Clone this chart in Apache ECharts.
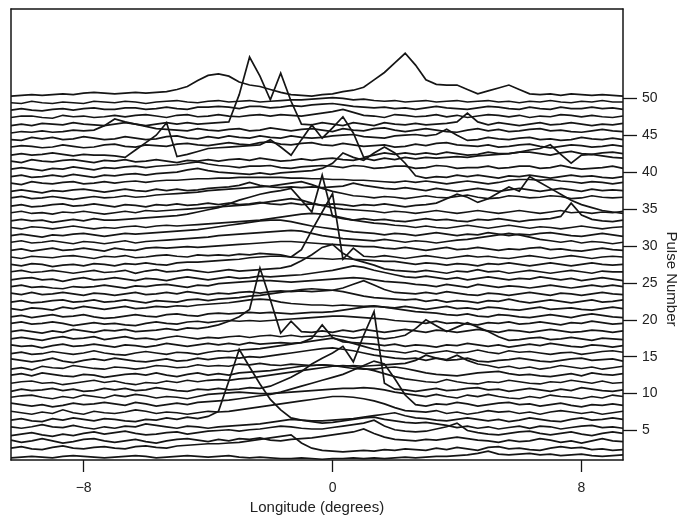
<!DOCTYPE html>
<html>
<head>
<meta charset="utf-8">
<script src="https://cdn.jsdelivr.net/npm/echarts@6/dist/echarts.min.js"></script>
<style>
html, body { margin: 0; padding: 0; background: #ffffff; }
#chart { width: 677px; height: 516px; }
</style>
</head>
<body>
<div id="chart"></div>
<script>
// Longitude samples, in thirds of a degree (-31/3 ... 28/3 degrees)
const longitudeThirds = [-31,-30,-29,-28,-27,-26,-25,-24,-23,-22,-21,-20,-19,-18,-17,-16,-15,-14,-13,-12,
  -11,-10,-9,-8,-7,-6,-5,-4,-3,-2,-1,0,1,2,3,4,5,6,7,8,9,10,11,12,13,14,15,16,17,18,19,20,21,22,23,24,25,26,27,28];

const pulseNumbers = [1,2,3,4,5,6,7,8,9,10,11,12,13,14,15,16,17,18,19,20,21,22,23,24,25,
  26,27,28,29,30,31,32,33,34,35,36,37,38,39,40,41,42,43,44,45,46,47,48,49,50];

// Pulse intensity at each longitude, in tenths of the spacing between pulses
const pulse01 = [3,4,5,4,3,5,6,5,4,3, 4,5,6,5,3,4,5,6,5,4, 5,6,4,3,4,3,2,2,3,2, 1,2,2,3,2,3,2,3,4,3, 4,5,5,6,7,9,12,8,7,8, 9,7,8,6,7,8,6,5,6,7];
const pulse02 = [6,8,5,4,7,9,6,5,7,8, 6,5,8,9,7,6,9,10,11,12, 12,13,14,16,18,20,22,24,13,6, 3,2,1,2,3,2,4,3,5,4, 3,6,4,7,5,3,7,8,5,6, 4,3,6,8,6,7,4,5,3,4];
const pulse03 = [7,4,6,9,6,3,5,8,9,6, 4,6,8,5,3,6,8,9,7,5, 8,6,9,8,10,7,6,8,9,10, 12,14,16,18,22,16,11,8,7,6, 8,7,9,11,9,7,6,4,7,5, 6,9,7,4,6,3,6,9,6,5];
const pulse04 = [3,5,7,4,2,5,3,6,8,5, 7,9,6,4,5,7,8,5,7,9, 10,11,9,11,12,14,16,15,13,12, 12,14,16,18,20,24,16,11,9,8, 9,12,15,20,10,7,5,4,6,8, 9,6,4,6,8,5,3,6,8,6];
const pulse05 = [5,3,5,8,5,4,7,4,2,5, 3,6,5,9,7,5,3,6,5,3, 5,6,7,8,9,11,13,15,14,12, 10,11,13,15,17,18,15,13,11,10, 11,9,7,4,6,3,5,2,4,6, 3,6,5,2,4,6,7,4,5,3];
const pulse06 = [4,6,3,2,6,4,7,5,3,6, 5,3,2,5,4,7,5,8,6,9, 16,57,100,76,53,32,18,7,4,3, 3,4,5,6,8,10,12,14,10,7, 6,4,3,5,7,5,3,5,2,4, 7,5,3,2,5,7,4,5,7,5];
const pulse07 = [6,4,2,5,3,8,4,2,6,4, 3,5,8,6,3,5,4,2,4,6, 5,6,8,10,12,14,16,18,20,22, 24,26,26,25,23,20,16,11,7,6, 5,7,3,5,2,4,7,5,6,3, 5,2,5,7,5,3,5,2,4,6];
const pulse08 = [7,5,3,5,2,4,7,5,6,8, 6,4,8,6,3,5,7,5,8,9, 10,11,13,15,17,19,22,26,30,34, 38,42,46,52,58,64,60,40,18,5, 3,6,5,8,6,3,5,7,8,5, 6,3,5,7,4,2,5,4,6,4];
const pulse09 = [5,7,8,5,3,6,4,8,6,4, 8,6,9,7,4,6,5,3,6,9, 10,11,12,11,10,10,11,12,13,14, 15,16,17,17,18,17,15,12,10,8, 6,9,6,4,8,6,9,6,4,3, 6,4,8,6,5,3,6,4,8,6];
const pulse10 = [3,6,4,5,7,4,6,3,4,7, 5,7,4,5,8,6,4,3,6,5, 7,5,6,8,7,10,16,22,30,40, 48,55,64,43,79,111,14,6,5,3, 5,7,4,5,7,8,5,6,3,5, 7,5,3,6,4,8,6,4,3,5];
const pulse11 = [4,6,7,4,5,2,4,6,8,5, 7,4,2,5,4,7,5,8,6,8, 9,8,10,11,13,15,17,19,21,23, 25,27,28,27,24,21,17,13,10,8, 6,5,9,6,4,3,6,5,8,6, 4,3,6,5,8,6,4,7,4,5];
const pulse12 = [5,7,4,8,6,4,3,6,5,2, 4,6,7,5,8,5,3,6,8,5, 7,5,8,9,10,11,13,15,17,18, 19,18,16,14,13,13,15,16,14,11, 8,6,5,4,6,8,9,10,7,5, 6,4,3,5,7,4,8,6,5,7];
const pulse13 = [3,5,2,7,5,4,8,6,4,3, 6,5,3,5,8,7,5,6,9,7, 8,7,10,9,11,9,8,10,9,8, 9,8,7,8,7,8,9,10,11,15, 22,18,16,22,15,10,8,5,7,4, 6,3,5,8,6,4,6,3,5,7];
const pulse14 = [7,5,3,5,8,4,2,5,7,5, 8,6,4,3,5,7,4,5,8,6, 8,9,8,10,9,11,13,15,17,19, 21,22,20,18,15,12,10,8,7,8, 5,8,5,6,8,4,3,5,6,8, 6,4,3,5,7,8,5,6,7,4];
const pulse15 = [4,6,3,4,7,5,3,5,8,5, 3,2,5,7,5,3,6,5,3,6, 8,7,9,10,11,13,15,17,19,21, 23,25,22,18,14,10,8,7,5,8, 4,6,8,5,6,9,6,4,8,6, 7,5,3,5,6,3,5,7,8,6];
const pulse16 = [6,4,5,2,5,7,4,5,7,5, 3,6,5,3,5,8,6,4,6,8, 6,8,6,9,7,8,9,8,9,15, 33,16,10,9,8,7,5,7,4,6, 5,3,6,5,8,6,4,6,3,5, 7,5,8,6,4,3,6,5,3,5];
const pulse17 = [4,6,4,2,5,7,4,5,7,3, 5,7,4,5,3,6,8,6,4,6, 5,7,8,6,8,9,7,9,7,8, 7,9,7,5,7,6,4,6,9,18, 30,22,14,20,26,20,14,7,2,3, 5,6,3,4,6,4,2,5,4,3];
const pulse18 = [4,6,4,2,5,3,7,5,3,6, 5,7,4,5,6,8,6,9,8,10, 13,18,24,34,90,47,2,18,4,3, 5,3,6,4,7,5,3,5,7,5, 3,6,5,3,5,7,5,3,6,5, 3,5,7,5,3,4,6,5,3,5];
const pulse19 = [5,7,4,5,7,5,2,4,6,4, 5,3,2,5,7,5,4,7,8,6, 8,9,8,9,8,9,10,11,12,13, 14,15,15,14,13,12,11,9,8,7, 5,8,5,6,4,3,6,5,7,4, 5,7,5,3,6,5,8,6,4,5];
const pulse20 = [4,6,3,5,7,4,5,7,4,2, 3,5,7,5,4,7,8,6,5,8, 9,8,9,10,9,10,9,8,9,10, 10,11,13,15,17,18,17,15,13,11, 10,9,7,6,8,5,4,7,6,4, 3,5,7,5,3,6,8,6,4,3];
const pulse21 = [5,3,6,5,3,7,5,8,6,4, 6,8,5,6,8,7,9,8,10,11, 12,13,15,17,18,17,14,12,11,10, 10,9,10,9,8,9,7,6,8,6, 4,6,8,5,6,4,7,6,4,3, 5,7,4,5,6,4,3,5,7,5];
const pulse22 = [4,6,3,4,6,7,4,5,7,4, 5,7,5,3,6,5,4,7,8,6, 8,9,10,12,13,15,17,19,21,22, 21,20,18,15,12,10,9,8,7,8, 5,7,4,6,5,3,6,5,8,5, 3,5,7,5,3,5,7,4,5,7];
const pulse23 = [6,4,7,4,5,7,5,3,6,5, 3,5,7,4,5,7,5,8,6,4, 6,5,7,8,6,8,9,8,9,8, 9,10,13,18,23,17,11,7,6,5, 7,5,8,6,4,3,6,5,3,5, 7,5,3,6,5,3,5,7,5,4];
const pulse24 = [5,7,4,5,3,2,5,4,5,7, 5,3,6,5,7,8,6,4,7,6, 9,10,11,12,13,13,12,11,12,13, 14,15,16,17,16,14,12,11,10,8, 7,5,8,6,4,8,6,4,6,5, 3,5,7,5,3,5,7,5,7,5];
const pulse25 = [4,6,7,4,5,2,5,7,4,5, 7,5,3,6,5,3,6,8,6,4, 6,8,6,7,9,8,9,10,11,13, 15,17,20,23,21,17,14,11,8,7, 9,7,5,7,4,6,8,6,4,6, 5,8,6,4,6,3,5,7,5,3];
const pulse26 = [5,7,4,5,7,5,3,5,7,4, 5,7,3,6,8,5,6,8,6,4, 6,8,6,7,8,9,10,13,20,28, 38,42,30,22,18,14,9,7,6,5, 7,5,3,6,5,8,5,6,3,5, 7,5,3,5,7,5,3,6,5,5];
const pulse27 = [5,3,6,5,2,4,5,3,6,5, 3,6,5,7,5,4,7,8,8,9, 10,11,12,14,15,16,16,15,14,13, 13,12,13,12,11,10,9,9,7,5, 7,6,4,6,5,3,6,5,7,5, 3,5,7,5,3,5,7,5,4,5];
const pulse28 = [5,3,6,5,4,6,7,5,3,6, 5,7,4,5,7,8,6,5,8,7, 8,7,9,8,10,9,8,5,15,41, 66,91,2,17,6,5,7,5,3,5, 7,5,3,5,7,5,6,4,3,5, 7,5,3,5,7,5,3,5,6,5];
const pulse29 = [4,6,3,5,7,4,5,7,5,3, 7,5,4,7,8,7,8,9,8,9, 10,11,12,13,14,15,16,16,15,14, 13,12,11,10,9,9,7,6,8,6, 4,6,8,5,6,8,6,4,6,5, 7,8,5,6,4,3,5,7,5,4];
const pulse30 = [5,7,4,5,7,5,3,6,5,3, 5,7,4,6,7,8,9,10,11,12, 14,15,16,17,18,19,20,21,20,17, 14,12,10,9,8,7,9,7,5,7, 6,4,6,8,9,11,13,15,17,15, 12,9,7,5,7,4,6,5,3,5];
const pulse31 = [4,6,4,2,5,4,6,7,5,3, 5,7,6,7,8,9,10,11,12,14, 16,18,20,22,24,25,25,23,20,17, 15,13,11,9,8,7,5,7,6,4, 6,8,6,4,6,5,8,6,4,6, 5,7,8,6,4,3,5,7,5,3];
const pulse32 = [5,3,6,5,3,5,7,5,3,5, 4,6,7,5,7,8,7,8,9,10, 11,12,13,14,15,17,19,21,23,24, 23,21,18,15,13,11,10,8,7,5, 7,5,4,6,8,6,4,6,8,6, 4,6,5,3,5,7,5,3,5,6];
const pulse33 = [4,6,4,5,2,4,6,4,7,5, 5,6,7,8,9,10,11,13,16,19, 22,27,32,36,40,43,45,48,32,16, 66,10,7,5,7,5,6,4,3,5, 7,5,6,4,3,6,5,7,5,3, 5,6,7,10,28,12,6,4,3,5];
const pulse34 = [5,7,4,5,3,6,5,7,5,3, 5,7,5,8,7,8,9,10,11,12, 13,14,15,16,18,20,22,24,22,18, 15,12,10,9,8,7,5,7,6,4, 6,8,6,4,6,8,6,4,6,8, 6,4,6,8,5,6,4,6,5,7];
const pulse35 = [4,6,3,4,6,7,4,5,7,5, 3,6,5,3,6,5,7,5,6,8, 6,8,6,7,9,7,6,8,6,7, 5,7,6,4,6,5,7,5,3,5, 6,8,14,20,16,9,14,22,30,24, 44,36,28,20,12,6,2,-2,-4,-6];
const pulse36 = [5,7,4,5,7,5,3,5,7,5, 6,8,6,7,9,10,11,12,13,15, 16,17,18,19,20,21,23,25,27,23, 18,14,11,8,7,5,7,6,4,6, 8,6,5,7,9,6,4,5,8,7, 5,6,8,7,4,5,8,6,5,6];
const pulse37 = [4,6,4,2,5,4,6,7,5,3, 5,7,5,4,7,5,7,5,6,8, 9,10,12,16,12,10,9,10,9,10, 9,10,11,15,12,10,8,7,9,7, 5,8,6,4,6,8,6,4,6,8, 6,4,6,8,6,4,7,5,6,5];
const pulse38 = [5,3,7,5,4,6,7,4,5,7, 5,7,8,6,8,9,9,10,11,11, 12,12,13,13,13,13,13,12,12,11, 11,10,10,9,9,8,7,6,8,6, 8,6,4,6,8,6,4,6,9,10, 10,9,10,8,7,5,7,6,4,6];
const pulse39 = [4,6,3,4,6,4,7,5,3,6, 5,7,8,6,8,9,10,13,15,12, 10,9,8,7,9,7,9,10,11,12, 15,22,36,30,26,36,44,36,22,5, 2,4,3,6,4,6,4,2,5,4, 6,4,2,4,6,4,5,3,2,4];
const pulse40 = [4,6,4,2,5,4,7,5,3,6, 5,7,8,6,8,9,10,12,14,11, 9,8,6,8,8,9,6,5,7,8, 9,8,6,9,8,5,6,8,8,5, 6,9,8,5,6,6,8,5,6,8, 8,5,6,9,6,4,5,6,8,5];
const pulse41 = [5,3,7,5,4,6,7,5,3,6, 5,7,4,5,7,5,3,6,5,7, 5,7,8,6,9,7,5,6,8,6, 8,9,7,6,9,6,9,7,10,8, 10,9,10,11,10,12,13,14,15,17, 20,22,27,14,2,13,14,12,10,9];
const pulse42 = [3,5,3,4,6,4,2,4,3,3, 2,0,10,20,30,47,1,4,8,12, 13,14,15,16,17,24,14,3,24,44, 26,40,55,33,0,3,6,4,6,4, 6,4,7,5,3,4,7,5,5,7, 7,5,3,6,8,5,4,6,7,5];
const pulse43 = [4,6,5,3,4,7,5,3,4,7, 8,5,4,7,6,5,8,9,7,6, 8,10,8,7,10,11,8,7,9,10, 7,6,9,7,5,6,7,4,5,8, 6,9,10,7,6,5,7,4,5,7, 8,5,3,5,7,6,4,5,7,5];
const pulse44 = [4,3,7,5,7,4,5,8,6,4, 5,8,6,4,5,8,9,6,5,8, 6,9,7,6,9,7,6,9,7,6, 7,9,10,11,8,7,6,9,10,11, 9,11,18,10,3,4,7,5,4,6, 7,4,5,3,4,7,5,4,6,4];
const pulse45 = [3,5,4,6,4,5,7,6,7,13, 22,18,15,12,9,8,7,6,9,7, 6,8,9,6,7,10,8,6,8,9, 7,5,9,7,6,9,10,7,5,7, 9,7,5,4,7,9,6,8,5,6, 8,9,6,7,5,4,6,8,6,5];
const pulse46 = [3,5,3,6,5,4,7,5,4,3, 5,7,5,3,5,7,5,7,5,6, 7,8,45,96,70,38,74,36,5,4, 7,5,3,7,5,3,7,5,4,6, 4,5,6,8,20,8,4,7,5,3, 5,7,4,5,7,5,3,5,4,6];
const pulse47 = [4,6,6,4,3,7,5,6,4,5, 7,5,7,8,6,4,7,8,5,6, 8,6,5,7,8,6,8,7,6,8, 10,12,15,11,7,6,4,8,7,5, 6,8,5,7,4,6,8,7,5,7, 4,6,5,8,7,5,7,5,4,6];
const pulse48 = [4,6,4,3,5,6,4,6,7,5, 5,7,7,5,6,8,6,5,8,8, 9,8,6,9,9,7,8,10,9,11, 12,13,11,9,8,7,8,6,7,5, 7,9,7,6,5,7,9,8,6,5, 8,6,5,8,6,6,8,6,7,5];
const pulse49 = [4,3,6,4,3,5,4,3,6,5, 4,6,5,3,5,6,7,5,4,6, 7,5,6,7,5,6,7,8,8,9, 10,11,10,8,9,7,6,7,5,6, 7,5,6,7,5,6,7,5,6,4, 6,5,7,5,4,6,5,7,5,5];
const pulse50 = [3,4,5,4,5,6,5,7,8,7, 6,7,8,7,8,9,12,16,24,31, 33,30,22,18,16,12,8,5,4,3, 5,6,9,11,15,25,35,48,61,45, 25,19,18,18,12,6,10,14,18,12, 6,5,6,4,6,5,4,5,4,3];

const profiles = [pulse01, pulse02, pulse03, pulse04, pulse05, pulse06, pulse07, pulse08, pulse09, pulse10,
  pulse11, pulse12, pulse13, pulse14, pulse15, pulse16, pulse17, pulse18, pulse19, pulse20,
  pulse21, pulse22, pulse23, pulse24, pulse25, pulse26, pulse27, pulse28, pulse29, pulse30,
  pulse31, pulse32, pulse33, pulse34, pulse35, pulse36, pulse37, pulse38, pulse39, pulse40,
  pulse41, pulse42, pulse43, pulse44, pulse45, pulse46, pulse47, pulse48, pulse49, pulse50];

const longitudeTicks = [-8, 0, 8];
const pulseTicks = [5, 10, 15, 20, 25, 30, 35, 40, 45, 50];

const xMin = -31 / 3, xMax = 28 / 3;
const yMin = 1, yMax = 62.1;
const ink = '#151515';
const textFont = 'Liberation Sans';

// Back rows first, so each nearer pulse hides the ones behind it with its white fill
const series = [];
for (let k = profiles.length - 1; k >= 0; k--) {
  const p = pulseNumbers[k];
  series.push({
    type: 'line',
    name: 'Pulse ' + p,
    data: profiles[k].map((v, i) => [longitudeThirds[i] / 3, p + v / 10]),
    symbol: 'none',
    silent: true,
    lineStyle: { color: ink, width: 1.7, join: 'miter' },
    areaStyle: { color: '#ffffff', opacity: 1, origin: 'start' },
    clip: true
  });
}

const minusFormat = v => (v < 0 ? '\u2212' + Math.abs(v) : String(v));

const chart = echarts.init(document.getElementById('chart'), null, { renderer: 'canvas' });
chart.setOption({
  animation: false,
  backgroundColor: '#ffffff',
  grid: { left: 11, right: 54, top: 9, bottom: 56, containLabel: false, outerBoundsMode: 'none' },
  xAxis: [
    {
      type: 'value', min: xMin, max: xMax, position: 'bottom', z: 10,
      axisLine: { show: true, onZero: false, lineStyle: { color: ink, width: 1.5 } },
      axisTick: { show: true, inside: false, length: 12, customValues: longitudeTicks, lineStyle: { color: ink, width: 1.3 } },
      axisLabel: { show: true, customValues: longitudeTicks, formatter: minusFormat, margin: 21,
        fontFamily: textFont, fontSize: 14, color: '#222' },
      splitLine: { show: false },
      name: 'Longitude (degrees)', nameLocation: 'middle', nameGap: 40, nameMoveOverlap: false,
      nameTextStyle: { fontFamily: textFont, fontSize: 15, color: '#222' }
    },
    {
      type: 'value', min: xMin, max: xMax, position: 'top', z: 10,
      axisLine: { show: true, onZero: false, lineStyle: { color: ink, width: 1.5 } },
      axisTick: { show: false }, axisLabel: { show: false }, splitLine: { show: false }
    }
  ],
  yAxis: [
    {
      type: 'value', min: yMin, max: yMax, position: 'right', z: 10,
      axisLine: { show: true, onZero: false, lineStyle: { color: ink, width: 1.5 } },
      axisTick: { show: true, inside: false, length: 14, customValues: pulseTicks, lineStyle: { color: ink, width: 1.3 } },
      axisLabel: { show: true, customValues: pulseTicks, margin: 19,
        fontFamily: textFont, fontSize: 14, color: '#222' },
      splitLine: { show: false },
      name: 'Pulse Number', nameLocation: 'middle', nameRotate: -90, nameGap: 41, nameMoveOverlap: false,
      nameTextStyle: { fontFamily: textFont, fontSize: 15, color: '#222', padding: [0, 0, 0, 89] }
    },
    {
      type: 'value', min: yMin, max: yMax, position: 'left', z: 10,
      axisLine: { show: true, onZero: false, lineStyle: { color: ink, width: 1.5 } },
      axisTick: { show: false }, axisLabel: { show: false }, splitLine: { show: false }
    }
  ],
  series: series
});
</script>
</body>
</html>
